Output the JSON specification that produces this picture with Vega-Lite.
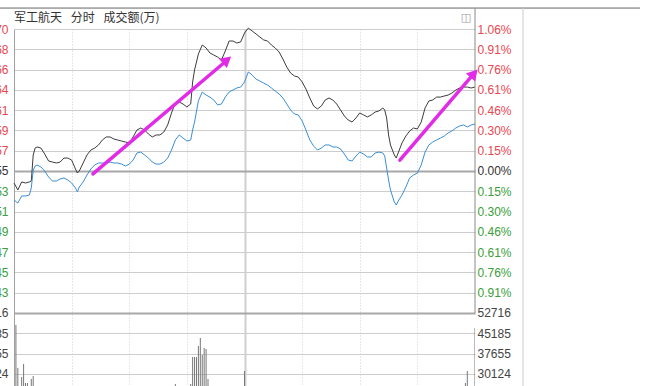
{
  "$schema": "https://vega.github.io/schema/vega-lite/v6.json",
  "width": 461,
  "height": 357,
  "autosize": {"type": "none"},
  "padding": {"left": 14, "top": 29, "right": 183, "bottom": 0},
  "background": "white",
  "title": {"text": "军工航天\u2002\u00a0分时\u2002\u00a0成交额(万)", "anchor": "start", "frame": "group", "font": "Noto Sans CJK SC", "fontSize": 12, "fontWeight": "normal", "color": "#333333", "offset": -17},
  "config": {"view": {"stroke": null}, "axis": {"labelFont": "Liberation Sans", "labelFontSize": 12}},
  "datasets": {
    "series": [
      {"t":0,"pct":-0.090,"avg":-0.217},{"t":2,"pct":-0.142,"avg":-0.240},{"t":4,"pct":-0.082,"avg":-0.187},{"t":6,"pct":-0.090,"avg":-0.187},
      {"t":8,"pct":-0.082,"avg":-0.180},{"t":9,"pct":-0.075,"avg":-0.127},{"t":10,"pct":0.120,"avg":0.007},{"t":11,"pct":0.172,"avg":0.037},
      {"t":12,"pct":0.180,"avg":0.045},{"t":14,"pct":0.172,"avg":0.030},{"t":16,"pct":0.127,"avg":0.000},{"t":18,"pct":0.075,"avg":-0.045},
      {"t":20,"pct":0.067,"avg":-0.075},{"t":22,"pct":0.060,"avg":-0.075},{"t":24,"pct":0.067,"avg":-0.060},{"t":26,"pct":0.097,"avg":-0.052},
      {"t":28,"pct":0.097,"avg":-0.067},{"t":30,"pct":0.082,"avg":-0.090},{"t":32,"pct":0.015,"avg":-0.127},{"t":33,"pct":-0.015,"avg":-0.157},
      {"t":34,"pct":0.000,"avg":-0.120},{"t":36,"pct":0.060,"avg":-0.082},{"t":38,"pct":0.120,"avg":-0.030},{"t":40,"pct":0.157,"avg":0.015},
      {"t":42,"pct":0.172,"avg":0.045},{"t":44,"pct":0.195,"avg":0.060},{"t":46,"pct":0.232,"avg":0.060},{"t":48,"pct":0.255,"avg":0.060},
      {"t":50,"pct":0.255,"avg":0.067},{"t":52,"pct":0.240,"avg":0.060},{"t":54,"pct":0.232,"avg":0.060},{"t":56,"pct":0.225,"avg":0.052},
      {"t":58,"pct":0.217,"avg":0.037},{"t":60,"pct":0.210,"avg":0.052},{"t":62,"pct":0.255,"avg":0.082},{"t":64,"pct":0.307,"avg":0.135},
      {"t":66,"pct":0.322,"avg":0.142},{"t":68,"pct":0.307,"avg":0.120},{"t":70,"pct":0.277,"avg":0.097},{"t":72,"pct":0.255,"avg":0.067},
      {"t":74,"pct":0.270,"avg":0.052},{"t":76,"pct":0.270,"avg":0.052},{"t":78,"pct":0.292,"avg":0.067},{"t":80,"pct":0.345,"avg":0.097},
      {"t":82,"pct":0.435,"avg":0.157},{"t":84,"pct":0.510,"avg":0.232},{"t":86,"pct":0.517,"avg":0.270},{"t":88,"pct":0.502,"avg":0.247},
      {"t":90,"pct":0.480,"avg":0.225},{"t":92,"pct":0.502,"avg":0.232},{"t":93,"pct":0.667,"avg":0.307},{"t":94,"pct":0.757,"avg":0.367},
      {"t":96,"pct":0.877,"avg":0.525},{"t":98,"pct":0.944,"avg":0.592},{"t":100,"pct":0.922,"avg":0.569},{"t":102,"pct":0.884,"avg":0.554},
      {"t":104,"pct":0.869,"avg":0.532},{"t":106,"pct":0.854,"avg":0.495},{"t":108,"pct":0.832,"avg":0.502},{"t":110,"pct":0.899,"avg":0.554},
      {"t":112,"pct":0.974,"avg":0.592},{"t":114,"pct":0.974,"avg":0.607},{"t":116,"pct":0.959,"avg":0.622},{"t":118,"pct":0.967,"avg":0.629},
      {"t":120,"pct":1.034,"avg":0.667},{"t":122,"pct":1.071,"avg":0.742},{"t":124,"pct":1.049,"avg":0.719},{"t":126,"pct":1.027,"avg":0.689},
      {"t":128,"pct":1.004,"avg":0.674},{"t":130,"pct":0.982,"avg":0.659},{"t":132,"pct":0.974,"avg":0.644},{"t":134,"pct":0.944,"avg":0.622},
      {"t":136,"pct":0.922,"avg":0.599},{"t":138,"pct":0.892,"avg":0.577},{"t":140,"pct":0.839,"avg":0.547},{"t":142,"pct":0.779,"avg":0.502},
      {"t":144,"pct":0.734,"avg":0.457},{"t":146,"pct":0.712,"avg":0.427},{"t":148,"pct":0.704,"avg":0.420},{"t":150,"pct":0.667,"avg":0.375},
      {"t":152,"pct":0.614,"avg":0.307},{"t":154,"pct":0.547,"avg":0.232},{"t":156,"pct":0.487,"avg":0.187},{"t":158,"pct":0.465,"avg":0.157},
      {"t":160,"pct":0.487,"avg":0.172},{"t":162,"pct":0.532,"avg":0.195},{"t":164,"pct":0.547,"avg":0.195},{"t":166,"pct":0.532,"avg":0.180},
      {"t":168,"pct":0.502,"avg":0.180},{"t":170,"pct":0.457,"avg":0.165},{"t":172,"pct":0.412,"avg":0.127},{"t":174,"pct":0.382,"avg":0.082},
      {"t":176,"pct":0.367,"avg":0.075},{"t":178,"pct":0.397,"avg":0.112},{"t":180,"pct":0.435,"avg":0.142},{"t":182,"pct":0.420,"avg":0.127},
      {"t":184,"pct":0.405,"avg":0.105},{"t":186,"pct":0.420,"avg":0.105},{"t":188,"pct":0.442,"avg":0.135},{"t":190,"pct":0.450,"avg":0.142},
      {"t":192,"pct":0.472,"avg":0.135},{"t":193,"pct":0.457,"avg":0.112},{"t":194,"pct":0.397,"avg":0.022},{"t":195,"pct":0.270,"avg":-0.067},
      {"t":196,"pct":0.195,"avg":-0.142},{"t":198,"pct":0.120,"avg":-0.232},{"t":199,"pct":0.097,"avg":-0.255},{"t":200,"pct":0.135,"avg":-0.225},
      {"t":202,"pct":0.210,"avg":-0.180},{"t":204,"pct":0.262,"avg":-0.120},{"t":206,"pct":0.300,"avg":-0.052},{"t":208,"pct":0.322,"avg":-0.030},
      {"t":210,"pct":0.315,"avg":-0.015},{"t":212,"pct":0.367,"avg":0.045},{"t":214,"pct":0.472,"avg":0.142},{"t":216,"pct":0.525,"avg":0.195},
      {"t":218,"pct":0.532,"avg":0.217},{"t":220,"pct":0.554,"avg":0.232},{"t":222,"pct":0.554,"avg":0.247},{"t":224,"pct":0.562,"avg":0.262},
      {"t":226,"pct":0.569,"avg":0.285},{"t":228,"pct":0.584,"avg":0.300},{"t":230,"pct":0.607,"avg":0.322},{"t":232,"pct":0.622,"avg":0.337},
      {"t":234,"pct":0.629,"avg":0.345},{"t":236,"pct":0.629,"avg":0.330},{"t":238,"pct":0.622,"avg":0.345},{"t":240,"pct":0.629,"avg":0.352}
    ],
    "vol": [
      {"t":1,"vol":48262},{"t":2,"vol":32300},{"t":4,"vol":28960},{"t":5,"vol":33785},{"t":6,"vol":26732},{"t":7,"vol":26732},
      {"t":9,"vol":28217},{"t":10,"vol":29330},{"t":84,"vol":26360},{"t":92,"vol":26360},{"t":93,"vol":36383},{"t":94,"vol":36383},
      {"t":95,"vol":36383},{"t":96,"vol":40466},{"t":97,"vol":43436},{"t":98,"vol":37126},{"t":99,"vol":39724},{"t":100,"vol":39353},
      {"t":101,"vol":28217},{"t":120,"vol":31186},{"t":235,"vol":26732},{"t":236,"vol":31186},{"t":240,"vol":47148}
    ],
    "arrows": [
      {"t1":41.1,"p1":-0.022,"t2":109.8,"p2":0.817,"th":110.9,"ph":0.832,"ang":50},
      {"t1":200.9,"p1":0.082,"t2":238.4,"p2":0.712,"th":239.5,"ph":0.731,"ang":41}
    ]
  },
  "resolve": {"scale": {"y": "independent"}},
  "layer": [
    {
      "resolve": {"axis": {"y": "independent"}},
      "layer": [
        {
          "data": {"name": "series"},
          "mark": {"type": "line", "color": "#3c3c3c", "strokeWidth": 1},
          "encoding": {
            "x": {"field": "t", "type": "quantitative", "title": null,
              "scale": {"domain": [0, 240], "nice": false, "zero": false},
              "axis": {"orient": "bottom", "values": [30, 60, 90, 120, 150, 180, 210], "grid": true, "gridColor": "#cfcfcf",
                "gridDash": {"condition": {"test": "datum.value == 120", "value": []}, "value": [1, 2]},
                "gridWidth": {"condition": {"test": "datum.value == 120", "value": 2}, "value": 1},
                "labels": false, "ticks": false, "domain": false, "title": null}},
            "y": {"field": "pct", "type": "quantitative", "title": null,
              "scale": {"domain": [-1.611, 1.064], "nice": false, "zero": false},
              "axis": {"orient": "left",
                "values": [1.064, 0.912, 0.76, 0.608, 0.456, 0.304, 0.152, 0, -0.152, -0.304, -0.456, -0.608, -0.76, -0.912, -1.064, -1.216, -1.368, -1.52],
                "grid": true,
                "gridColor": {"condition": {"test": "datum.value == 0 || datum.value == -1.064", "value": "#a8a8a8"}, "value": "#cdcdcd"},
                "gridWidth": {"condition": {"test": "datum.value == 0 || datum.value == -1.064", "value": 2}, "value": 1},
                "domain": true, "domainColor": "#a0a0a0", "ticks": false, "tickSize": 0, "labelPadding": 6,
                "labelExpr": "['30124','37655','45185','52716','14.43','14.45','14.47','14.49','14.51','14.53','14.55','14.57','14.59','14.61','14.64','14.66','14.68','14.70'][round(datum.value/0.152)+10]",
                "labelColor": {"condition": [{"test": "datum.value < -1", "value": "#444444"}, {"test": "datum.value < -0.01", "value": "#3a9e3a"}, {"test": "datum.value > 0.01", "value": "#e8474f"}], "value": "#333333"},
                "labelFlush": false, "labelOverlap": false, "labelBound": false, "title": null}}
          }
        },
        {
          "data": {"name": "series"},
          "mark": {"type": "line", "color": "#3b8ed4", "strokeWidth": 1},
          "encoding": {
            "x": {"field": "t", "type": "quantitative", "title": null, "scale": {"domain": [0, 240], "nice": false, "zero": false}},
            "y": {"field": "avg", "type": "quantitative", "title": null,
              "scale": {"domain": [-1.611, 1.064], "nice": false, "zero": false},
              "axis": {"orient": "right",
                "values": [1.064, 0.912, 0.76, 0.608, 0.456, 0.304, 0.152, 0, -0.152, -0.304, -0.456, -0.608, -0.76, -0.912, -1.064, -1.216, -1.368, -1.52],
                "grid": false, "domain": false, "ticks": false, "tickSize": 0, "labelPadding": 2,
                "labelExpr": "datum.value < -1 ? ['30124','37655','45185','52716'][round(datum.value/0.152)+10] : format(abs(datum.value), '.2f') + '%'",
                "labelColor": {"condition": [{"test": "datum.value < -1", "value": "#444444"}, {"test": "datum.value < -0.01", "value": "#3a9e3a"}, {"test": "datum.value > 0.01", "value": "#e8474f"}], "value": "#333333"},
                "labelFlush": false, "labelOverlap": false, "labelBound": false, "title": null}}
          }
        },
        {
          "data": {"values": [{}]},
          "mark": {"type": "rule", "color": "#666666", "strokeWidth": 1},
          "encoding": {
            "x": {"datum": -7.3, "type": "quantitative", "scale": {"domain": [0, 240], "nice": false, "zero": false}},
            "x2": {"datum": 325.9},
            "y": {"datum": 1.221, "type": "quantitative", "scale": {"domain": [-1.611, 1.064], "nice": false, "zero": false}, "axis": null}
          }
        },
        {
          "data": {"values": [{}]},
          "mark": {"type": "rule", "color": "#8a8a8a", "strokeWidth": 1},
          "encoding": {
            "x": {"datum": 240, "type": "quantitative", "scale": {"domain": [0, 240], "nice": false, "zero": false}},
            "y": {"datum": 1.221, "type": "quantitative", "scale": {"domain": [-1.611, 1.064], "nice": false, "zero": false}, "axis": null},
            "y2": {"datum": -1.064}
          }
        },
        {
          "data": {"values": [{}]},
          "mark": {"type": "rule", "color": "#cccccc", "strokeWidth": 1},
          "encoding": {
            "x": {"datum": 265, "type": "quantitative", "scale": {"domain": [0, 240], "nice": false, "zero": false}},
            "y": {"datum": 1.221, "type": "quantitative", "scale": {"domain": [-1.611, 1.064], "nice": false, "zero": false}, "axis": null},
            "y2": {"datum": -1.611}
          }
        },
        {
          "data": {"values": [{}]},
          "mark": {"type": "text", "text": "◫", "font": "DejaVu Sans", "fontSize": 11, "color": "#999999"},
          "encoding": {
            "x": {"datum": 235.3, "type": "quantitative", "scale": {"domain": [0, 240], "nice": false, "zero": false}},
            "y": {"datum": 1.15, "type": "quantitative", "scale": {"domain": [-1.611, 1.064], "nice": false, "zero": false}, "axis": null}
          }
        },
        {
          "data": {"name": "arrows"},
          "mark": {"type": "rule", "color": "#e22be6", "strokeWidth": 3.5, "strokeCap": "round"},
          "encoding": {
            "x": {"field": "t1", "type": "quantitative", "title": null, "scale": {"domain": [0, 240], "nice": false, "zero": false}},
            "y": {"field": "p1", "type": "quantitative", "scale": {"domain": [-1.611, 1.064], "nice": false, "zero": false}, "axis": null},
            "x2": {"field": "t2"},
            "y2": {"field": "p2"}
          }
        },
        {
          "data": {"name": "arrows"},
          "mark": {"type": "point", "shape": "triangle-up", "filled": true, "color": "#e22be6", "opacity": 1, "size": 150},
          "encoding": {
            "x": {"field": "th", "type": "quantitative", "title": null, "scale": {"domain": [0, 240], "nice": false, "zero": false}},
            "y": {"field": "ph", "type": "quantitative", "scale": {"domain": [-1.611, 1.064], "nice": false, "zero": false}, "axis": null},
            "angle": {"field": "ang", "type": "quantitative", "scale": null}
          }
        }
      ]
    },
    {
      "data": {"name": "vol"},
      "mark": {"type": "rule", "color": "#777777", "strokeWidth": 1, "clip": true},
      "encoding": {
        "x": {"field": "t", "type": "quantitative", "title": null, "scale": {"domain": [0, 240], "nice": false, "zero": false}},
        "y": {"field": "vol", "type": "quantitative", "scale": {"domain": [25616, 158146], "nice": false, "zero": false}, "axis": null},
        "y2": {"datum": 0}
      }
    }
  ]
}
